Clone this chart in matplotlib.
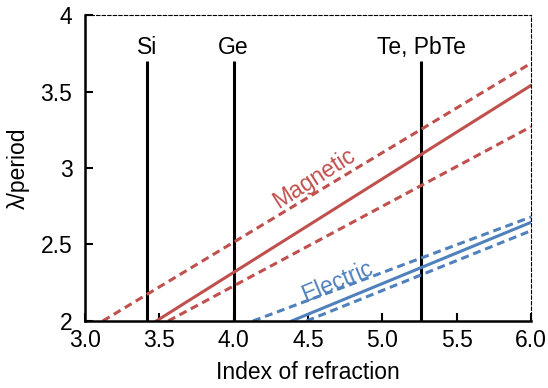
import matplotlib
matplotlib.use("Agg")
import matplotlib.pyplot as plt

plt.rcParams['font.family'] = ['Liberation Sans', 'DejaVu Sans']

# materials (index of refraction) marked with vertical lines
materials = ["Si", "Ge", "Te, PbTe"]
material_n = [3.42, 4.0, 5.26]
material_top = 3.7

# band edges: (n start, n end), (lambda/period start, end)
mag_n = [3.48, 6.0]
mag_y = [2.0, 3.54]
mag_hi_n = [3.12, 6.0]
mag_hi_y = [2.0, 3.685]
mag_lo_n = [3.56, 6.0]
mag_lo_y = [2.0, 3.27]

ele_n = [4.39, 6.0]
ele_y = [2.0, 2.645]
ele_hi_n = [4.13, 6.0]
ele_hi_y = [2.0, 2.68]
ele_lo_n = [4.49, 6.0]
ele_lo_y = [2.0, 2.59]

xticks = [3.0, 3.5, 4.0, 4.5, 5.0, 5.5, 6.0]
xticklabels = ["3.0", "3.5", "4.0", "4.5", "5.0", "5.5", "6.0"]
yticks = [2.0, 2.5, 3.0, 3.5, 4.0]
yticklabels = ["2", "2.5", "3", "3.5", "4"]

red = '#C0504D'
blue = '#4F81BD'
dash = (0, (2.6, 1.6))
fs = 16.5

fig = plt.figure(figsize=(5.48, 3.88), dpi=100)
ax = fig.add_axes([0.155, 0.1727, 0.814, 0.7886])

for name, n in zip(materials, material_n):
    ax.plot([n, n], [2.0, material_top], color='black', lw=2.2, solid_capstyle='butt')
    ax.text(n, 3.79, name, ha='center', va='center', fontsize=fs)

ax.plot(mag_n, mag_y, color=red, lw=2.2)
ax.plot(mag_hi_n, mag_hi_y, color=red, lw=2.2, linestyle=dash)
ax.plot(mag_lo_n, mag_lo_y, color=red, lw=2.2, linestyle=dash)
ax.plot(ele_n, ele_y, color=blue, lw=2.2)
ax.plot(ele_hi_n, ele_hi_y, color=blue, lw=2.2, linestyle=dash)
ax.plot(ele_lo_n, ele_lo_y, color=blue, lw=2.2, linestyle=dash)

ax.text(4.54, 2.935, "Magnetic", color=red, fontsize=fs, rotation=32.5,
        ha='center', va='center', rotation_mode='anchor')
ax.text(4.695, 2.26, "Electric", color=blue, fontsize=fs, rotation=22.5,
        ha='center', va='center', rotation_mode='anchor')

ax.set_xlim(3.0, 6.0)
ax.set_ylim(2.0, 4.0)
ax.set_xticks(xticks)
ax.set_xticklabels(xticklabels)
ax.set_yticks(yticks)
ax.set_yticklabels(yticklabels)
ax.tick_params(direction='in', length=6, width=1.5, labelsize=fs)
ax.tick_params(axis='x', pad=6)
ax.tick_params(axis='y', pad=9)

for s in ['left', 'bottom']:
    ax.spines[s].set_linewidth(1.8)
for s in ['top', 'right']:
    ax.spines[s].set_linewidth(0.8)
    ax.spines[s].set_linestyle((0, (3, 2)))

ax.set_xlabel("Index of refraction", fontsize=fs, labelpad=6)
ax.set_ylabel("λ/period", fontsize=fs, labelpad=8)

fig.savefig("out.png", dpi=100)
